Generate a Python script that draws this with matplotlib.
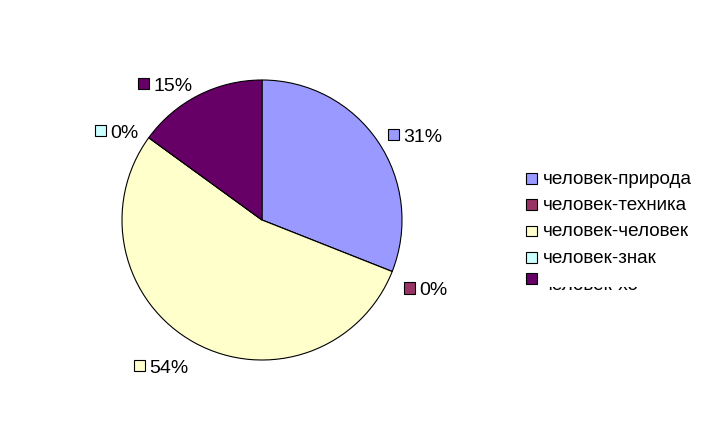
import matplotlib
matplotlib.use("Agg")
import matplotlib.pyplot as plt
from matplotlib.patches import Rectangle
from matplotlib.offsetbox import AnnotationBbox, HPacker, DrawingArea, TextArea
import numpy as np

plt.rcParams['font.family'] = ['Liberation Sans', 'DejaVu Sans']

categories = ['человек-природа', 'человек-техника', 'человек-человек',
              'человек-знак', 'человек-хо']
values = [31, 0, 54, 0, 15]
labels = ['31%', '0%', '54%', '0%', '15%']
colors = ['#9999FF', '#993366', '#FFFFCC', '#CCFFFF', '#660066']

W, H = 707, 443
fig = plt.figure(figsize=(W / 100, H / 100), dpi=100)
fig.patch.set_facecolor('white')

# pie: centre (262,220) px, radius 140 px
cx, cy, r = 262, 220, 140
ax = fig.add_axes([(cx - r) / W, 1 - (cy + r) / H, 2 * r / W, 2 * r / H])
ax.pie(values, colors=colors, startangle=90, counterclock=False,
       wedgeprops=dict(edgecolor='black', linewidth=0.8))
ax.set_xlim(-1, 1)
ax.set_ylim(-1, 1)
ax.set_aspect('equal')
ax.axis('off')

# data labels: colour key + percent, placed just outside the pie
fs = 14
total = sum(values)
start = 0.0
lab_r = 1.09
for i, v in enumerate(values):
    mid = start + v / total * 360 / 2
    start += v / total * 360
    a = np.deg2rad(mid)
    x, y = lab_r * np.sin(a), lab_r * np.cos(a)
    da = DrawingArea(8, 8, 0, 0)
    da.add_artist(Rectangle((0, 0), 8, 8, facecolor=colors[i],
                            edgecolor='black', linewidth=0.8))
    ta = TextArea(labels[i], textprops=dict(fontsize=fs, color='black'))
    pk = HPacker(children=[da, ta], align='top', pad=0, sep=3)
    bx = 0 if x >= 0 else 1
    by = 0.3 if y >= 0 else 1
    ab = AnnotationBbox(pk, (x, y), xycoords='data', xybox=(0, -4.5),
                        boxcoords='offset points', box_alignment=(bx, by),
                        frameon=False, pad=0, annotation_clip=False)
    ax.add_artist(ab)

# legend (right side, last entry cut off as in the original)
clip = Rectangle((0, 0), 1, 1 - 287 / H, transform=fig.transFigure,
                 facecolor='none', edgecolor='none')
fig.add_artist(clip)
for i, name in enumerate(categories):
    top = 173 + 26.4 * i
    base = top + 10.5
    if i == len(categories) - 1:
        top, base = 273.3, 289.5
    fig.add_artist(Rectangle((526 / W, 1 - (top + 10.5) / H), 10.5 / W, 10.5 / H,
                             transform=fig.transFigure, facecolor=colors[i],
                             edgecolor='black', linewidth=0.8))
    t = fig.text(543 / W, 1 - base / H, name, fontsize=13.6,
                 ha='left', va='baseline', color='black')
    if i == len(categories) - 1:
        t.set_clip_path(clip)

fig.savefig('out.png', dpi=100)
